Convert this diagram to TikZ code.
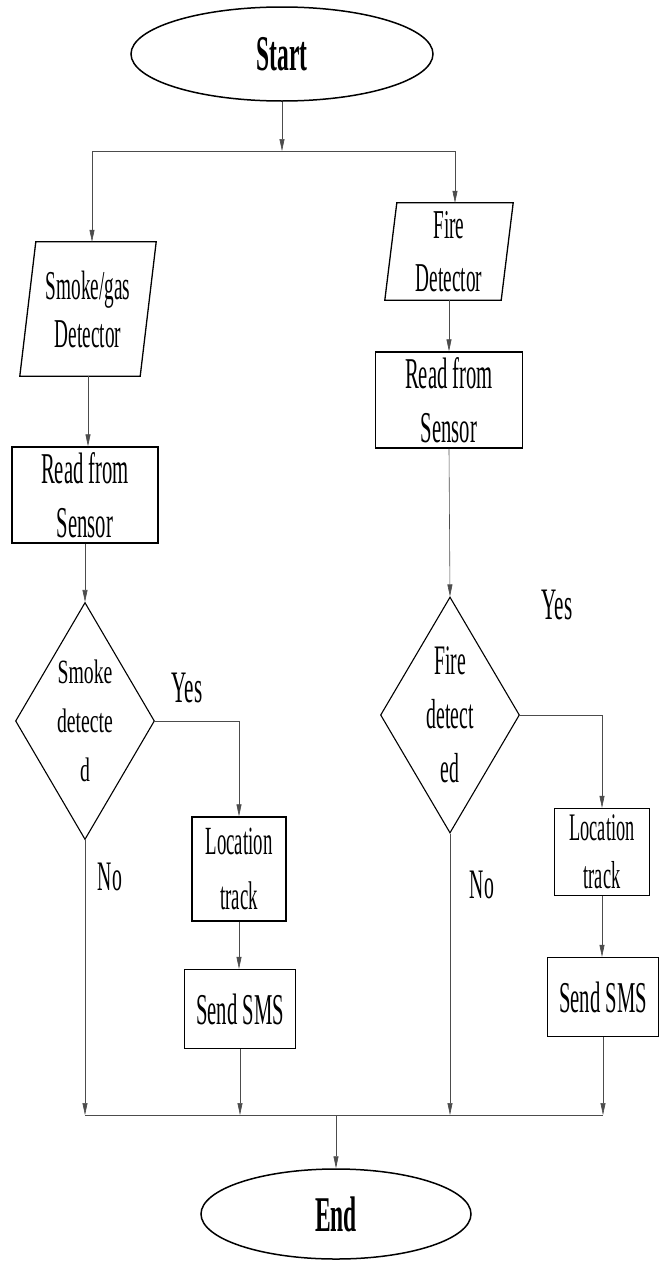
\documentclass[tikz,border=0pt]{standalone}
\usepackage{fontspec}
\setmainfont{Liberation Serif}
\newfontfamily\tallfont[FakeStretch=0.47]{Liberation Serif}
\newfontfamily\midfont[FakeStretch=0.58]{Liberation Serif}
\usetikzlibrary{shapes.geometric,arrows.meta}
\begin{document}
\begin{tikzpicture}[x=1pt,y=-1pt,
  box/.style={draw=black, line width=1.3pt, rectangle, inner sep=0pt, align=center},
  oval/.style={draw=black, line width=1.5pt, ellipse, inner sep=0pt},
  dia/.style={draw=black, line width=1.1pt, diamond, inner sep=0pt},
  paraline/.style={draw=black, line width=1.3pt},
  conn/.style={draw=black!70, line width=0.6pt},
  arr/.style={conn, -{Triangle[length=12pt,width=5pt]}},
  lbl/.style={inner sep=0pt, align=center},
  fs/.style n args={2}{font={\tallfont\fontsize{#1}{#2}\selectfont}},
]
\useasboundingbox (0,0) rectangle (661,1261);

% Start / End
\node[oval, minimum width=302pt, minimum height=94pt, fs={50}{60}] (start) at (282,54) {\bfseries Start};
\node[oval, minimum width=270pt, minimum height=90pt, fs={50}{60}] (end) at (336,1214) {\bfseries End};

% split junction
\coordinate (jc) at (282,151);
\coordinate (jl) at (92,151);
\coordinate (jr) at (455,151);

% left column
\node[lbl, minimum width=136pt, minimum height=134pt, fs={41}{48}] (sd) at (88,309) {Smoke/gas\\Detector};
\draw[paraline] ([xshift=16pt]sd.north west) -- (sd.north east) -- ([xshift=-16pt]sd.south east) -- (sd.south west) -- cycle;
\node[box, minimum width=146pt, minimum height=96pt, fs={44}{54}] (rd1) at (85,495) {Read from\\Sensor};
\node[dia, minimum width=139pt, minimum height=237pt,
      label={[lbl, font={\midfont\fontsize{34}{49}\selectfont}]center:{Smoke\\detecte\\d}}] (sdia) at (85,721) {};
\node[box, minimum width=94pt, minimum height=104pt, fs={40}{55}] (loc1) at (239,869) {Location\\track};
\node[box, minimum width=111pt, minimum height=79pt, fs={44}{54}] (send1) at (240,1009) {Send SMS};
\node[lbl, fs={45}{54}] (yes1) at (187,688) {Yes};
\node[lbl, fs={42}{54}] (no1) at (110,877) {No};

% right column
\node[lbl, minimum width=128pt, minimum height=97pt, fs={41}{53}] (fd) at (449,251.5) {Fire\\Detector};
\draw[paraline] ([xshift=12pt]fd.north west) -- (fd.north east) -- ([xshift=-12pt]fd.south east) -- (fd.south west) -- cycle;
\node[box, minimum width=147pt, minimum height=96pt, fs={44}{54}] (rd2) at (449,400) {Read from\\Sensor};
\node[dia, minimum width=139pt, minimum height=236pt,
      label={[lbl, font={\tallfont\fontsize{42}{54}\selectfont}]center:{Fire\\detect\\ed}}] (fdia) at (450,715) {};
\node[box, minimum width=95pt, minimum height=87pt, fs={39}{48}] (loc2) at (602,852) {Location\\track};
\node[box, minimum width=111pt, minimum height=79pt, fs={44}{54}] (send2) at (603,997) {Send SMS};
\node[lbl, fs={45}{54}] (yes2) at (557,605) {Yes};
\node[lbl, fs={42}{54}] (no2) at (482,885) {No};

% bus
\coordinate (bl) at (85,1115);
\coordinate (br) at (603,1115);
\coordinate (bc) at (336,1115);

% connectors
\draw[arr] (start.south) -- (jc);
\draw[conn] (jl) -- (jr);
\draw[arr] (jl) -- (jl |- sd.north);
\draw[arr] (jr) -- (jr |- fd.north);

\draw[arr] (sd.south) -- (sd.south |- rd1.north);
\draw[arr] (rd1.south) -- (sdia.north);
\draw[arr] (sdia.east) -| (loc1.north);
\draw[arr] (loc1.south) -- (loc1.south |- send1.north);
\draw[arr] (send1.south) -- (send1.south |- bl);
\draw[arr] (sdia.south) -- (bl);

\draw[arr] (fd.south) -- (fd.south |- rd2.north);
\draw[arr] (rd2.south) -- (fdia.north);
\draw[arr] (fdia.east) -| (loc2.north);
\draw[arr] (loc2.south) -- (loc2.south |- send2.north);
\draw[arr] (send2.south) -- (br);
\draw[arr] (fdia.south) -- (fdia.south |- bl);

\draw[conn] (bl) -- (br);
\draw[arr] (bc) -- (end.north);
\end{tikzpicture}
\end{document}
